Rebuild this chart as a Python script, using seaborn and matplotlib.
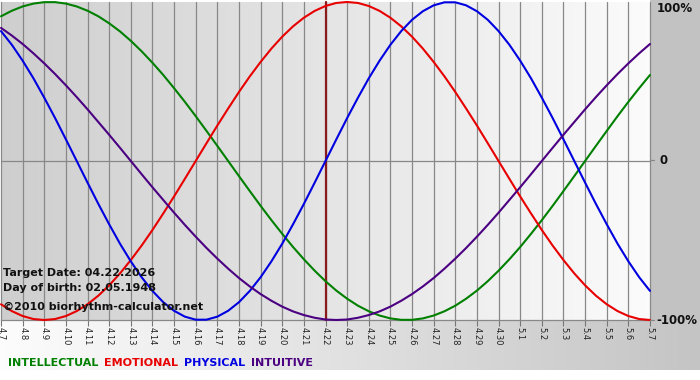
import numpy as np
import pandas as pd
import matplotlib
matplotlib.use("Agg")
import matplotlib.pyplot as plt
import seaborn as sns

dates = ["4.7", "4.8", "4.9", "4.10", "4.11", "4.12", "4.13", "4.14", "4.15", "4.16",
         "4.17", "4.18", "4.19", "4.20", "4.21", "4.22", "4.23", "4.24", "4.25", "4.26",
         "4.27", "4.28", "4.29", "4.30", "5.1", "5.2", "5.3", "5.4", "5.5", "5.6", "5.7"]
intellectual = [91.0, 94.5, 97.2, 99.0, 99.9, 99.9, 99.0, 97.2, 94.5, 91.0,
                86.6, 81.5, 75.6, 69.0, 61.8, 54.1, 45.8, 37.2, 28.2, 18.9,
                9.5, 0.0, -9.5, -18.9, -28.2, -37.2, -45.8, -54.1, -61.8, -69.0,
                -75.6, -81.5, -86.6, -91.0, -94.5, -97.2, -99.0, -99.9, -99.9, -99.0,
                -97.2, -94.5, -91.0, -86.6, -81.5, -75.6, -69.0, -61.8, -54.1, -45.8,
                -37.2, -28.2, -18.9, -9.5, 0.0, 9.5, 18.9, 28.2, 37.2, 45.8, 54.1]
emotional = [-90.1, -94.4, -97.5, -99.4, -100.0, -99.4, -97.5, -94.4, -90.1, -84.7,
             -78.2, -70.7, -62.3, -53.2, -43.4, -33.0, -22.3, -11.2, 0.0, 11.2,
             22.3, 33.0, 43.4, 53.2, 62.3, 70.7, 78.2, 84.7, 90.1, 94.4,
             97.5, 99.4, 100.0, 99.4, 97.5, 94.4, 90.1, 84.7, 78.2, 70.7,
             62.3, 53.2, 43.4, 33.0, 22.3, 11.2, 0.0, -11.2, -22.3, -33.0,
             -43.4, -53.2, -62.3, -70.7, -78.2, -84.7, -90.1, -94.4, -97.5, -99.4, -100.0]
physical = [81.7, 73.1, 63.1, 52.0, 39.8, 27.0, 13.6, 0.0, -13.6, -27.0,
            -39.8, -52.0, -63.1, -73.1, -81.7, -88.8, -94.2, -97.9, -99.8, -99.8,
            -97.9, -94.2, -88.8, -81.7, -73.1, -63.1, -52.0, -39.8, -27.0, -13.6,
            0.0, 13.6, 27.0, 39.8, 52.0, 63.1, 73.1, 81.7, 88.8, 94.2,
            97.9, 99.8, 99.8, 97.9, 94.2, 88.8, 81.7, 73.1, 63.1, 52.0,
            39.8, 27.0, 13.6, 0.0, -13.6, -27.0, -39.8, -52.0, -63.1, -73.1, -81.7]
intuitive = [83.7, 78.9, 73.6, 67.7, 61.4, 54.7, 47.6, 40.2, 32.5, 24.5,
             16.5, 8.3, 0.0, -8.3, -16.5, -24.5, -32.5, -40.2, -47.6, -54.7,
             -61.4, -67.7, -73.6, -78.9, -83.7, -87.9, -91.6, -94.6, -96.9, -98.6,
             -99.7, -100.0, -99.7, -98.6, -96.9, -94.6, -91.6, -87.9, -83.7, -78.9,
             -73.6, -67.7, -61.4, -54.7, -47.6, -40.2, -32.5, -24.5, -16.5, -8.3,
             0.0, 8.3, 16.5, 24.5, 32.5, 40.2, 47.6, 54.7, 61.4, 67.7, 73.6]
series_names = ["INTELLECTUAL", "EMOTIONAL", "PHYSICAL", "INTUITIVE"]
target_label = "4.22"
info_lines = ["Target Date: 04.22.2026", "Day of birth: 02.05.1948", "\u00a92010 biorhythm-calculator.net"]
right_labels = ["100%", "0", "-100%"]

colors = {"INTELLECTUAL": "#008000", "EMOTIONAL": "#e80000",
          "PHYSICAL": "#0000e0", "INTUITIVE": "#4b0082"}

n_days = len(dates)
xs = list(np.arange(len(intellectual)) / 2.0)
df = pd.DataFrame({"day": xs * 4,
                   "value": intellectual + emotional + physical + intuitive,
                   "series": sum([[n] * len(xs) for n in series_names], [])})

sns.set_theme(style="white")
plt.rcParams["font.family"] = ["DejaVu Sans"]

W, H = 700, 380
fig = plt.figure(figsize=(W / 100, H / 100), dpi=100)
fig.patch.set_facecolor("white")

# background axes (pixel coordinates, y downward)
bg = fig.add_axes([0, 0, 1, 1], zorder=-10)
bg.set_xlim(0, W)
bg.set_ylim(H, 0)
bg.axis("off")
band = np.linspace(0.99, 0.77, 256)[None, :]
bg.imshow(np.dstack([band, band, band]), extent=(0, W, 370, 320), aspect="auto")
bg.add_patch(plt.Rectangle((650, 0), 50, 320, color="#c2c2c2", lw=0))

x0, x1 = 1, 650
y_top, y_bot = 2, 320
ax = fig.add_axes([x0 / W, 1 - y_bot / H, (x1 - x0) / W, (y_bot - y_top) / H], zorder=0)
ax.set_xlim(0, n_days - 1)
ax.set_ylim(-100, 100)
g = np.linspace(0.81, 0.985, 256)[None, :]
ax.imshow(np.dstack([g, g, g]), extent=(0, n_days - 1, -100, 100), aspect="auto", zorder=0)

for i in range(n_days):
    ax.axvline(i, color="#888888", lw=0.9, zorder=1)
ax.axhline(0, color="#888888", lw=0.9, zorder=1)
ax.axvline(dates.index(target_label), color="#8b1a1a", lw=1.6, zorder=3)

sns.lineplot(data=df, x="day", y="value", hue="series", palette=colors,
             hue_order=series_names, ax=ax, legend=False, lw=1.5, zorder=4)
for ln in ax.lines:
    ln.set_clip_on(False)

for s in ax.spines.values():
    s.set_visible(False)
ax.set_xlabel("")
ax.set_ylabel("")
ax.set_yticks([])
ax.set_xticks(range(n_days))
ax.set_xticklabels(dates, rotation=-90, fontsize=6, color="#222222")
ax.tick_params(axis="x", length=4, width=0.8, color="#777777", pad=1, bottom=True)
ax.spines["bottom"].set_visible(True)
ax.spines["bottom"].set_color("#888888")
ax.spines["bottom"].set_linewidth(0.9)

# foreground text axes
fg = fig.add_axes([0, 0, 1, 1], zorder=10)
fg.set_xlim(0, W)
fg.set_ylim(H, 0)
fg.axis("off")
fg.patch.set_alpha(0)

fg.text(657, 8, right_labels[0], fontsize=8.5, fontweight="bold", va="center", ha="left", color="#111111")
fg.text(660, 161, right_labels[1], fontsize=8.5, fontweight="bold", va="center", ha="left", color="#111111")
fg.text(656, 321, right_labels[2], fontsize=8.5, fontweight="bold", va="center", ha="left", color="#111111")
fg.plot([650, 654], [160, 160], color="#888888", lw=0.9)
fg.plot([650, 654], [320, 320], color="#888888", lw=0.9)

for txt, yb in zip(info_lines, [276, 291, 310]):
    fg.text(3, yb, txt, fontsize=8, fontweight="bold", va="baseline", ha="left", color="#111111")

xpos = 8
for n in series_names:
    t = fg.text(xpos, 366, n, fontsize=8, fontweight="bold", va="baseline", ha="left", color=colors[n])
    fig.canvas.draw()
    bb = t.get_window_extent()
    xpos = bb.x1 + 6

fig.savefig("out.png", dpi=100)
